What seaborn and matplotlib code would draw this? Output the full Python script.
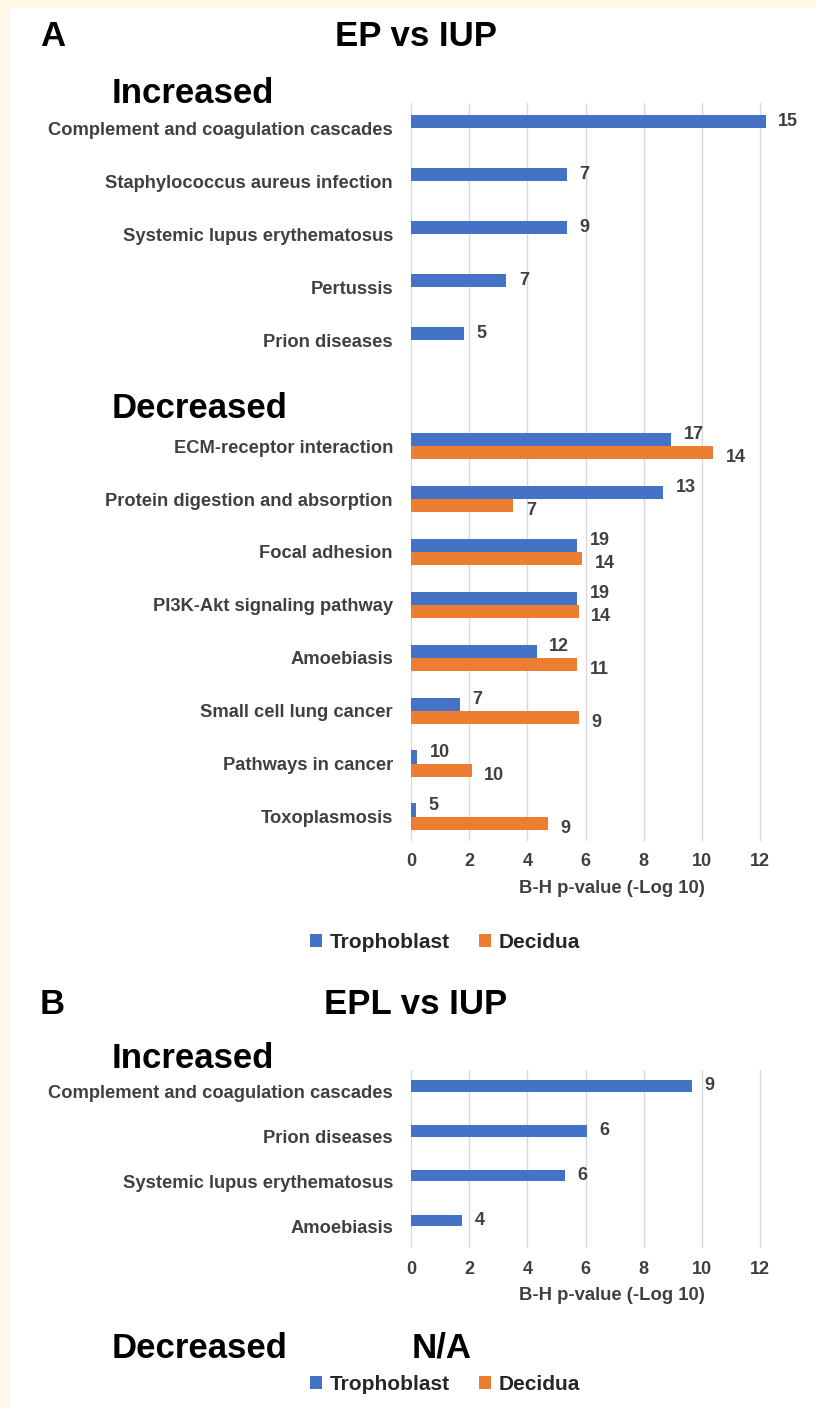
import numpy as np
import pandas as pd
import matplotlib
matplotlib.use("Agg")
import matplotlib.pyplot as plt
from matplotlib.patches import Rectangle
import seaborn as sns

# Panel A: EP vs IUP
a_up_pathways = ['Complement and coagulation cascades', 'Staphylococcus aureus infection',
                 'Systemic lupus erythematosus', 'Pertussis', 'Prion diseases']
a_up_troph = [12.2, 5.35, 5.35, 3.28, 1.83]
a_up_troph_n = [15, 7, 9, 7, 5]

a_down_pathways = ['ECM-receptor interaction', 'Protein digestion and absorption', 'Focal adhesion',
                   'PI3K-Akt signaling pathway', 'Amoebiasis', 'Small cell lung cancer',
                   'Pathways in cancer', 'Toxoplasmosis']
a_down_troph = [8.95, 8.68, 5.71, 5.71, 4.32, 1.69, 0.22, 0.17]
a_down_troph_n = [17, 13, 19, 19, 12, 7, 10, 5]
a_down_dec = [10.4, 3.52, 5.88, 5.77, 5.72, 5.77, 2.09, 4.7]
a_down_dec_n = [14, 7, 14, 14, 11, 9, 10, 9]

# Panel B: EPL vs IUP
b_up_pathways = ['Complement and coagulation cascades', 'Prion diseases',
                 'Systemic lupus erythematosus', 'Amoebiasis']
b_up_troph = [9.67, 6.05, 5.3, 1.76]
b_up_troph_n = [9, 6, 6, 4]

cell_types = ['Trophoblast', 'Decidua']
colors = ['#4472C4', '#ED7D31']
xticks = [0, 2, 4, 6, 8, 10, 12]

W, H = 816, 1408
TXT = '#404040'
XMAX = 12.4
PX_PER_UNIT = (760 - 411) / 12


def build_df(up_paths, up_troph, up_n, down_paths, down_troph, down_tn, down_dec, down_dn):
    rows = []
    for p, v, n in zip(up_paths, up_troph, up_n):
        rows.append((p, 'Trophoblast', v, n))
        rows.append((p, 'Decidua', np.nan, np.nan))
    order = list(up_paths)
    if down_paths:
        order.append(' ')
        for p, v, n, d, dn in zip(down_paths, down_troph, down_tn, down_dec, down_dn):
            rows.append((p, 'Trophoblast', v, n))
            rows.append((p, 'Decidua', d, dn))
        order += list(down_paths)
    df = pd.DataFrame(rows, columns=['pathway', 'cell', 'value', 'n'])
    return df, order


def draw_panel(ax, df, order, ylim, offsets):
    sns.barplot(data=df, y='pathway', x='value', hue='cell', order=order, hue_order=cell_types,
                palette=colors, width=0.5, orient='h', ax=ax, legend=True,
                edgecolor='none', saturation=1)
    ax.set_xlim(0, XMAX)
    ax.set_ylim(*ylim)
    ax.set_xticks(xticks)
    ax.set_xlabel('')
    ax.set_ylabel('')
    ax.grid(axis='x', color='#D9D9D9', linewidth=1.0)
    ax.grid(axis='y', visible=False)
    ax.set_axisbelow(True)
    for s in ax.spines.values():
        s.set_visible(False)
    ax.tick_params(axis='both', length=0, colors=TXT)
    ax.tick_params(axis='y', pad=13)
    ax.tick_params(axis='x', pad=9)
    for t in ax.get_yticklabels():
        t.set_fontsize(13.2)
        t.set_fontweight('bold')
        t.set_color(TXT)
    for t in ax.get_xticklabels():
        t.set_fontsize(13)
        t.set_fontweight('bold')
        t.set_color(TXT)
    # value labels (gene counts)
    lookup = {(r.pathway, r.cell): r.n for r in df.itertuples()}
    paired = set(df[(df.cell == 'Decidua') & df.value.notna()].pathway)
    for cell, cont in zip(cell_types, ax.containers):
        for patch in cont:
            w = patch.get_width()
            if not np.isfinite(w):
                continue
            yc = patch.get_y() + patch.get_height() / 2
            path = order[int(round(yc))]
            n = lookup.get((path, cell))
            if n is None or not np.isfinite(n):
                continue
            dy = 0
            if path in paired:
                dy = offsets[cell]
            ax.annotate(f'{int(n)}', xy=(w, yc), xytext=(9, dy), textcoords='offset points',
                        ha='left', va='center', fontsize=13, fontweight='bold', color=TXT,
                        annotation_clip=False)
    ax.get_legend().remove()


sns.set_theme(style='white')
plt.rcParams['font.family'] = ['Liberation Sans', 'DejaVu Sans']

fig = plt.figure(figsize=(W / 100, H / 100), dpi=100)
fig.patch.set_facecolor('#FFF8E6')
fig.add_artist(Rectangle((10 / W, 0), 1 - 10 / W, 1 - 8 / H, transform=fig.transFigure,
                         facecolor='white', edgecolor='none', zorder=-10))


def fx(px):
    return px / W


def fy(py):
    return 1 - py / H


ax_w = XMAX * PX_PER_UNIT / W

# panel A
dfA, orderA = build_df(a_up_pathways, a_up_troph, a_up_troph_n,
                       a_down_pathways, a_down_troph, a_down_troph_n, a_down_dec, a_down_dec_n)
axA = fig.add_axes([fx(411), fy(841), ax_w, (841 - 103) / H])
draw_panel(axA, dfA, orderA, (13.46, -0.48), {'Trophoblast': 3.5, 'Decidua': -3.5})

# panel B
dfB, orderB = build_df(b_up_pathways, b_up_troph, b_up_troph_n, [], [], [], [], [])
axB = fig.add_axes([fx(411), fy(1248), ax_w, (1248 - 1070) / H])
draw_panel(axB, dfB, orderB, (3.48, -0.48), {'Trophoblast': 0, 'Decidua': 0})

big = dict(fontsize=25, fontweight='bold', color='black', va='baseline')
fig.text(fx(40), fy(46), 'A', ha='left', **big)
fig.text(fx(416), fy(46), 'EP vs IUP', ha='center', **big)
fig.text(fx(112), fy(103), 'Increased', ha='left', **big)
fig.text(fx(112), fy(418), 'Decreased', ha='left', **big)

fig.text(fx(40), fy(1014), 'B', ha='left', **big)
fig.text(fx(416), fy(1014), 'EPL vs IUP', ha='center', **big)
fig.text(fx(112), fy(1068), 'Increased', ha='left', **big)
fig.text(fx(112), fy(1358), 'Decreased', ha='left', **big)
fig.text(fx(412), fy(1358), 'N/A', ha='left', **big)

xl = dict(fontsize=13.3, fontweight='bold', color=TXT, ha='center', va='center')
fig.text(fx(612), fy(888), 'B-H p-value (-Log 10)', **xl)
fig.text(fx(612), fy(1295), 'B-H p-value (-Log 10)', **xl)

handles = [Rectangle((0, 0), 1, 1, facecolor=c, edgecolor='none') for c in colors]
for cy in (942, 1384):
    fig.legend(handles, cell_types, loc='center', bbox_to_anchor=(fx(445), fy(cy)), ncol=2,
               frameon=False, handlelength=0.6, handleheight=0.6, handletextpad=0.35,
               columnspacing=1.4, prop={'size': 15, 'weight': 'bold'}, labelcolor='#262626')

fig.savefig('out.png', dpi=100, facecolor=fig.get_facecolor())
